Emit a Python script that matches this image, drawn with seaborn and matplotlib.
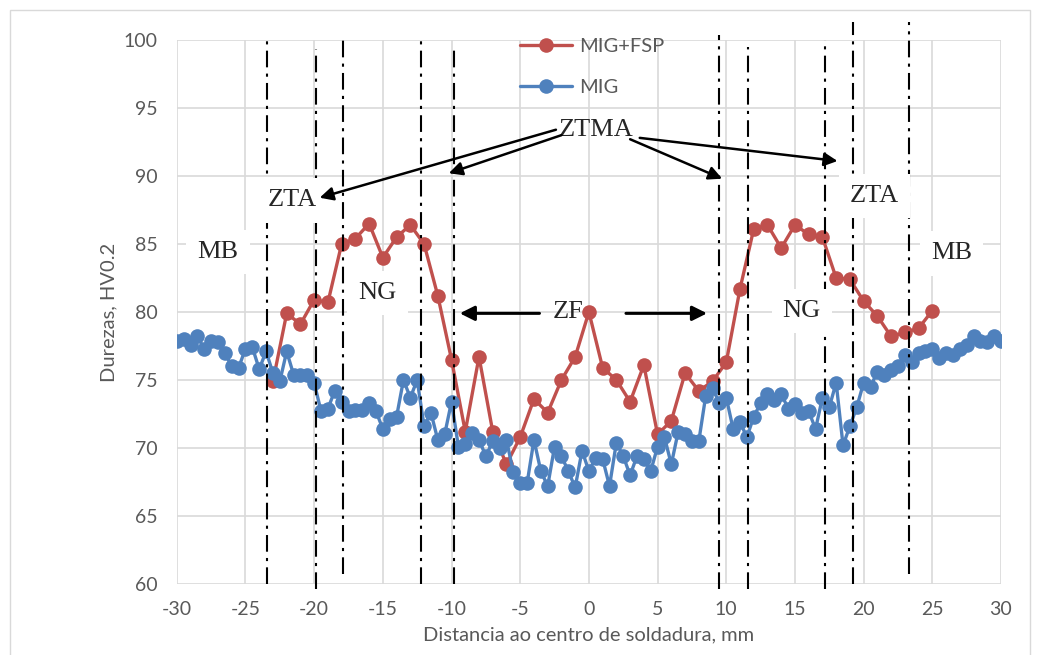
import numpy as np
import pandas as pd
import matplotlib
matplotlib.use('Agg')
import matplotlib.pyplot as plt
import seaborn as sns
from matplotlib.patches import Rectangle

# dados
x_fsp = list(range(-23, 26))
hv_fsp = [74.9, 79.9, 79.1, 80.9, 80.7, 85.0, 85.4, 86.5, 84.0, 85.5,
          86.4, 85.0, 81.2, 76.5, 71.2, 76.7, 71.2, 68.8, 70.8, 73.6,
          72.6, 75.0, 76.7, 80.0, 75.9, 75.0, 73.4, 76.1, 71.0, 72.0,
          75.5, 74.2, 74.9, 76.3, 81.7, 86.1, 86.4, 84.7, 86.4, 85.7,
          85.5, 82.5, 82.4, 80.8, 79.7, 78.2, 78.5, 78.8, 80.1]

x_mig = [i * 0.5 for i in range(-60, 61)]
hv_mig = [77.9, 78.0, 77.6, 78.2, 77.3, 77.9, 77.8, 77.0, 76.0, 75.9,
          77.3, 77.4, 75.8, 77.1, 75.5, 74.9, 77.1, 75.4, 75.4, 75.4,
          74.8, 72.7, 72.9, 74.2, 73.4, 72.7, 72.8, 72.8, 73.3, 72.7,
          71.4, 72.1, 72.3, 75.0, 73.7, 75.0, 71.6, 72.6, 70.6, 71.0,
          73.4, 70.1, 70.3, 71.1, 70.6, 69.4, 70.5, 70.0, 70.6, 68.2,
          67.4, 67.4, 70.6, 68.3, 67.2, 70.1, 69.4, 68.3, 67.1, 69.8,
          68.3, 69.3, 69.2, 67.2, 70.4, 69.4, 68.0, 69.4, 69.2, 68.3,
          70.1, 70.8, 68.8, 71.2, 71.0, 70.5, 70.5, 73.8, 74.4, 73.3,
          73.7, 71.4, 71.9, 70.8, 72.3, 73.3, 74.0, 73.5, 74.0, 72.9,
          73.2, 72.6, 72.7, 71.4, 73.7, 73.0, 74.8, 70.2, 71.6, 73.0,
          74.8, 74.5, 75.6, 75.4, 75.7, 76.0, 76.8, 76.3, 77.0, 77.1,
          77.3, 76.6, 77.0, 76.8, 77.3, 77.6, 78.2, 77.9, 77.8, 78.2,
          77.9]

# limites das zonas (mm)
zonas = [-23.4, -19.9, -17.9, -12.2, -9.8, 9.5, 11.6, 17.2, 19.2, 23.3]
zona_top = [100.0, 99.3, 100.4, 99.9, 99.6, 100.4, 99.5, 100.0, 101.3, 101.3]
zona_bot = [60.0, 59.6, 60.7, 60.0, 60.0, 59.6, 59.6, 59.6, 60.0, 60.7]

df_fsp = pd.DataFrame({'x': x_fsp, 'hv': hv_fsp})
df_mig = pd.DataFrame({'x': x_mig, 'hv': hv_mig})

sns.set_style('white')
plt.rcParams['font.family'] = ['Lato', 'DejaVu Sans']
plt.rcParams['axes.unicode_minus'] = False

fig = plt.figure(figsize=(10.4, 6.55), dpi=100)
ax = fig.add_axes([0.170, 0.1084, 0.7925, 0.8306])

red = '#C0504D'
blue = '#4F81BD'
sns.lineplot(data=df_fsp, x='x', y='hv', ax=ax, color=red, marker='o',
             markersize=10.5, linewidth=2.4, markeredgewidth=0, label='MIG+FSP',
             zorder=3)
sns.lineplot(data=df_mig, x='x', y='hv', ax=ax, color=blue, marker='o',
             markersize=10.5, linewidth=2.4, markeredgewidth=0, label='MIG',
             zorder=3)

ax.set_xlim(-30, 30)
ax.set_ylim(60, 100)
ax.set_xticks(range(-30, 31, 5))
ax.set_yticks(range(60, 101, 5))
ax.grid(True, color='#d9d9d9', linewidth=1.2)
ax.set_axisbelow(True)
for s in ax.spines.values():
    s.set_visible(False)
ax.tick_params(axis='x', length=0, labelsize=14, labelcolor='#595959', pad=12)
ax.tick_params(axis='y', length=0, labelsize=14, labelcolor='#595959', pad=14)
ax.set_xlabel('Distancia ao centro de soldadura, mm', fontsize=14.5, color='#595959',
              labelpad=6)
ax.set_ylabel('Durezas, HV0.2', fontsize=14.5, color='#595959', labelpad=4)

# linhas das zonas
for zx, zt, zb in zip(zonas, zona_top, zona_bot):
    ax.plot([zx, zx], [zb, zt], color='black', linewidth=1.5,
            linestyle=(0, (8, 3, 1.5, 3)), clip_on=False, zorder=4)

serif = ['Liberation Serif', 'DejaVu Serif']
box = dict(facecolor='white', edgecolor='none', pad=8)
labels = [('MB', -27.0, 84.4), ('ZTA', -21.6, 88.2), ('NG', -15.4, 81.4),
          ('ZTA', 20.8, 88.5), ('NG', 15.5, 80.1), ('MB', 26.4, 84.3)]
for t, tx, ty in labels:
    ax.text(tx, ty, t, family=serif, fontsize=19, ha='center', va='center',
            bbox=box, zorder=5)

ax.text(-1.5, 80.0, 'ZF', family=serif, fontsize=19, ha='center', va='center',
        zorder=5)
arr = dict(arrowstyle='-|>', color='black', linewidth=2.2, mutation_scale=22,
           shrinkA=0, shrinkB=0)
ax.annotate('', xy=(-9.4, 79.9), xytext=(-3.6, 79.9), arrowprops=arr, zorder=5)
ax.annotate('', xy=(8.6, 79.9), xytext=(2.7, 79.9), arrowprops=arr, zorder=5)

ax.text(0.5, 93.4, 'ZTMA', family=serif, fontsize=19, ha='center', va='center',
        zorder=5)
arr2 = dict(arrowstyle='-|>', color='black', linewidth=1.8, mutation_scale=20,
            shrinkA=0, shrinkB=0)
ax.annotate('', xy=(-19.6, 88.4), xytext=(-2.4, 93.4), arrowprops=arr2, zorder=5)
ax.annotate('', xy=(-10.2, 90.2), xytext=(-2.0, 93.0), arrowprops=arr2, zorder=5)
ax.annotate('', xy=(9.7, 89.8), xytext=(3.0, 92.7), arrowprops=arr2, zorder=5)
ax.annotate('', xy=(18.1, 91.1), xytext=(3.7, 92.8), arrowprops=arr2, zorder=5)

leg = ax.legend(loc='upper left', bbox_to_anchor=(0.416, 1.003), frameon=False,
                fontsize=14.5, labelspacing=1.15, handlelength=2.6,
                handletextpad=0.35, borderpad=0, borderaxespad=0)
for t in leg.get_texts():
    t.set_color('#595959')

# moldura do grafico
fig.patches.append(Rectangle((10 / 1040, -0.05), 1020 / 1040, 1.05 - 10 / 655,
                             transform=fig.transFigure, fill=False,
                             edgecolor='#d9d9d9', linewidth=1))

fig.savefig('out.png', dpi=100)
